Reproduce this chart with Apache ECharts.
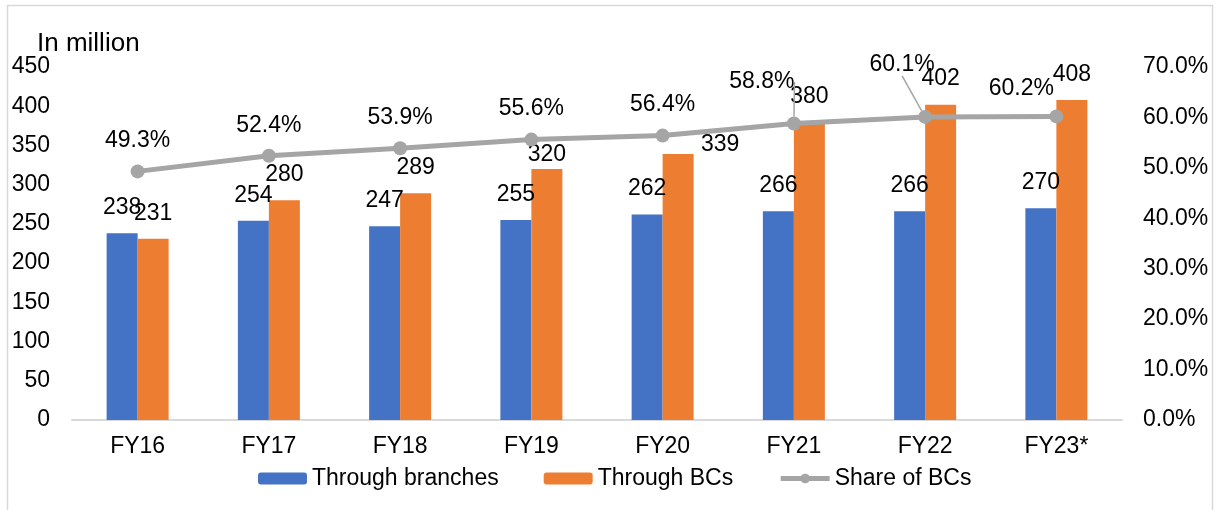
<!DOCTYPE html>
<html>
<head>
<meta charset="utf-8">
<script src="https://cdn.jsdelivr.net/npm/echarts@6/dist/echarts.min.js"></script>
<style>
html,body{margin:0;padding:0;background:#fff;}
#chart{width:1218px;height:510px;}
</style>
</head>
<body>
<div id="chart"></div>
<script>
var categories = ['FY16', 'FY17', 'FY18', 'FY19', 'FY20', 'FY21', 'FY22', 'FY23*'];
var throughBranches = [238, 254, 247, 255, 262, 266, 266, 270];
var throughBCs = [231, 280, 289, 320, 339, 380, 402, 408];
var shareOfBCs = [49.3, 52.4, 53.9, 55.6, 56.4, 58.8, 60.1, 60.2];
var seriesNames = ['Through branches', 'Through BCs', 'Share of BCs'];
var unitLabel = 'In million';

var FONT = '"Liberation Sans", Arial, sans-serif';
var chart = echarts.init(document.getElementById('chart'));

var bcLabelMoves = {3: {dx: 0, dy: 11}, 4: {dx: 42, dy: 16}};
var shareLabelMoves = {5: {dx: -32, dy: -11}, 6: {dx: -23, dy: -22}, 7: {dx: -35, dy: 3}};

var shareData = shareOfBCs.map(function (v, i) {
  var item = {value: v};
  if (i === 5 || i === 6) {
    item.labelLine = {show: true};
  }
  return item;
});

chart.setOption({
  animation: false,
  textStyle: {fontFamily: FONT},
  grid: {left: 72, right: 96, top: 67, bottom: 90},
  graphic: [
    {type: 'rect', shape: {x: 7.5, y: 5.5, width: 1205, height: 530}, style: {fill: 'none', stroke: '#D9D9D9', lineWidth: 1.5}, silent: true},
    {type: 'text', left: 37, top: 31, style: {text: unitLabel, font: '26px ' + FONT, fill: '#000'}}
  ],
  legend: {
    left: 253,
    top: 462,
    itemWidth: 49,
    itemHeight: 12,
    itemGap: 45,
    textStyle: {fontSize: 23, color: '#000', fontFamily: FONT},
    data: [
      {name: seriesNames[0]},
      {name: seriesNames[1]},
      {name: seriesNames[2], lineStyle: {width: 5, color: '#A5A5A5'}, itemStyle: {color: '#A5A5A5'}}
    ]
  },
  xAxis: {
    type: 'category',
    data: categories,
    axisLine: {lineStyle: {color: '#D9D9D9', width: 2}},
    axisTick: {show: false},
    axisLabel: {fontSize: 23, color: '#000', margin: 15, fontFamily: FONT}
  },
  yAxis: [
    {
      type: 'value', min: 0, max: 450, interval: 50,
      splitLine: {show: false},
      axisLine: {show: false},
      axisLabel: {fontSize: 23, color: '#000', margin: 22, fontFamily: FONT}
    },
    {
      type: 'value', min: 0, max: 70, interval: 10,
      splitLine: {show: false},
      axisLine: {show: false},
      axisLabel: {fontSize: 23, color: '#000', margin: 21, fontFamily: FONT,
        formatter: function (v) { return v.toFixed(1) + '%'; }}
    }
  ],
  series: [
    {
      name: seriesNames[0], type: 'bar', data: throughBranches,
      barWidth: 31, barGap: '0%',
      itemStyle: {color: '#4472C4'},
      label: {show: true, position: 'top', distance: 14, fontSize: 23, color: '#000', fontFamily: FONT}
    },
    {
      name: seriesNames[1], type: 'bar', data: throughBCs,
      barWidth: 31, barGap: '0%',
      itemStyle: {color: '#ED7D31'},
      label: {show: true, position: 'top', distance: 14, fontSize: 23, color: '#000', fontFamily: FONT},
      labelLayout: function (p) { return bcLabelMoves[p.dataIndex] || {}; }
    },
    {
      name: seriesNames[2], type: 'line', yAxisIndex: 1, data: shareData,
      symbol: 'circle', symbolSize: 14,
      lineStyle: {color: '#A5A5A5', width: 5},
      itemStyle: {color: '#A5A5A5'},
      label: {show: true, position: 'top', distance: 12, fontSize: 23, color: '#000', fontFamily: FONT,
        formatter: function (p) { return p.value.toFixed(1) + '%'; }},
      labelLine: {show: false, lineStyle: {color: '#A5A5A5', width: 1.5}},
      labelLayout: function (p) { return shareLabelMoves[p.dataIndex] || {}; },
      z: 5
    }
  ]
});
</script>
</body>
</html>
